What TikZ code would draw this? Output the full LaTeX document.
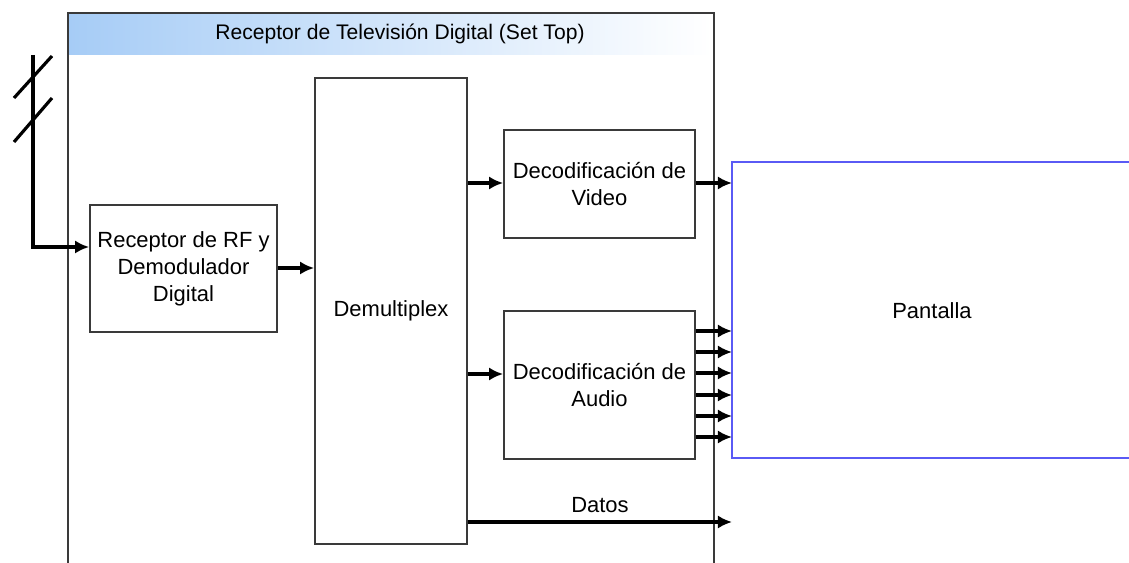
\documentclass[tikz,border=0pt]{standalone}
\usepackage{fontspec}
\setmainfont{Liberation Sans}
\usepackage{xcolor}
\usetikzlibrary{arrows.meta,positioning,calc}
\definecolor{bandblue}{HTML}{A6CCF6}
\definecolor{boxgray}{HTML}{3A3A3A}
\definecolor{panblue}{HTML}{5A5AF5}
\begin{document}
\begin{tikzpicture}[x=0.02cm, y=-0.02cm,
    block/.style={draw=boxgray, line width=1pt, align=center, inner sep=2pt,
        font=\fontsize{12.5}{15.4}\selectfont},
    arr/.style={line width=1.8pt, -{Latex[length=8pt,width=7.5pt]}},
    lbl/.style={font=\fontsize{12.5}{15.4}\selectfont}]
    \useasboundingbox (0,0) rectangle (1129,563);

    % Set top frame
    \shade[left color=bandblue, middle color=bandblue!55, right color=white] (68,13) rectangle (712,55);
    \draw[boxgray, line width=1pt] (68,563) -- (68,13) -- (714,13) -- (714,563);
    \node[lbl, font=\fontsize{12}{14}\selectfont] (title) at (400,34) {Receptor de Televisión Digital (Set Top)};

    % Blocks
    \node[block, minimum width=3.74cm, minimum height=2.54cm] (rf) at (183.5,268.5)
        {Receptor de RF y\\Demodulador\\Digital};
    \node[block, minimum width=3.04cm, minimum height=9.32cm] (demux) at (391,311) {Demultiplex};
    \node[block, minimum width=3.82cm, minimum height=2.16cm] (video) at (599.5,184)
        {Decodificación de\\Video};
    \node[block, minimum width=3.82cm, minimum height=2.96cm] (audio) at (599.5,385)
        {Decodificación de\\Audio};

    % Pantalla (open to the right)
    \draw[panblue, line width=1.2pt] (1129,162) -- (732,162) -- (732,458) -- (1129,458);
    \coordinate (panleft) at (732,310);
    \node[lbl] (pantalla) at (932,311) {Pantalla};

    % Antenna
    \coordinate (ant) at (33,55);
    \draw[line width=1.8pt] (14,98) -- (52,56);
    \draw[line width=1.8pt] (14,142) -- (52,98);
    \draw[arr] (ant) |- (rf.west |- 0,247);

    % Signal flow
    \draw[arr] (rf.east |- 0,268) -- (demux.west |- 0,268);
    \draw[arr] (demux.east |- 0,183) -- (video.west |- 0,183);
    \draw[arr] (demux.east |- 0,374) -- (audio.west |- 0,374);
    \draw[arr] (video.east |- 0,183) -- (panleft |- 0,183);
    \foreach \y in {331,352,373,395,416,437} {
        \draw[arr] (audio.east |- 0,\y) -- (panleft |- 0,\y);
    }
    \draw[arr] (demux.east |- 0,522) -- node[lbl, above, yshift=1pt] (datos) {Datos} (panleft |- 0,522);
\end{tikzpicture}
\end{document}
